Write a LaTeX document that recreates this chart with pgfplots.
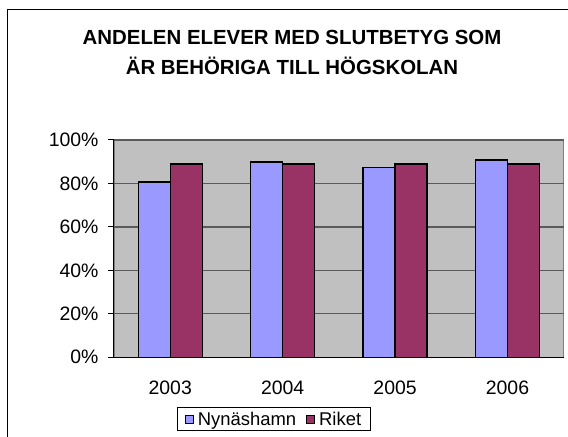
\documentclass[border=0pt]{standalone}
\usepackage{pgfplots}
\pgfplotsset{compat=1.18}
\usepackage{fontspec}
\setmainfont{Liberation Sans}
\definecolor{nyc}{RGB}{153,153,255}
\definecolor{rkc}{RGB}{153,51,102}
\definecolor{bgc}{RGB}{192,192,192}
\definecolor{brd}{RGB}{128,128,128}
\definecolor{grd}{RGB}{90,90,90}
\begin{document}
\begin{tikzpicture}
\path[use as bounding box] (-114bp,-79.7bp) rectangle (454bp,357.3bp);
\draw[black, line width=1bp] (-106bp,-90bp) -- (-106bp,347.3bp) -- (470bp,347.3bp);
\node[anchor=base, font=\bfseries\fontsize{20.5}{24}\selectfont] at (178bp,312.3bp) {ANDELEN ELEVER MED SLUTBETYG SOM};
\node[anchor=base, font=\bfseries\fontsize{20.5}{24}\selectfont] at (178bp,282.3bp) {ÄR BEHÖRIGA TILL HÖGSKOLAN};
\begin{axis}[
  at={(0,0)}, anchor=south west,
  scale only axis, width=449.7bp, height=217.3bp,
  ybar=0pt, bar width=32bp,
  xmin=-0.5, xmax=3.5, ymin=0, ymax=100,
  axis x line*=bottom, axis y line*=left,
  axis line style={black, line width=1bp},
  axis background/.style={fill=bgc, draw=brd, line width=1.5bp},
  xtick={0,1,2,3}, xticklabels={2003,2004,2005,2006},
  major x tick style={draw=none},
  extra x ticks={-0.5,0.5,1.5,2.5,3.5}, extra x tick labels={},
  extra x tick style={major tick length=6bp, tick style={black, line width=1bp}, grid=none},
  ytick={0,20,40,60,80,100}, yticklabels={0\%,20\%,40\%,60\%,80\%,100\%},
  tick align=outside, major tick length=6bp,
  ytick style={black, line width=1bp},
  ymajorgrids, major grid style={grd, line width=1.2bp},
  /pgf/number format/assume math mode=true,
  ticklabel style={font=\fontsize{19.5}{22}\selectfont},
  yticklabel style={xshift=-6bp},
  xticklabel style={yshift=-14bp},
  legend style={at={(axis description cs:0.3558,-0.2843)}, anchor=center,
    draw=black, line width=1bp, font=\fontsize{18.5}{21}\selectfont,
    legend columns=2, inner xsep=7bp, inner ysep=2.5bp},
  legend image code/.code={\draw[#1, draw=black, line width=1bp] (0bp,-4bp) rectangle (8bp,4bp);},
]
\addplot[fill=nyc, draw=black, line width=1.3bp] coordinates {(0,80.7) (1,89.9) (2,87.3) (3,90.8)};
\addplot[fill=rkc, draw=black, line width=1.3bp] coordinates {(0,89.0) (1,89.0) (2,89.0) (3,89.0)};
\legend{\mbox{}\hspace{2bp}Nynäshamn\hspace{8bp}\mbox{},\mbox{}\hspace{2bp}Riket\mbox{}}
\end{axis}
\end{tikzpicture}
\end{document}
